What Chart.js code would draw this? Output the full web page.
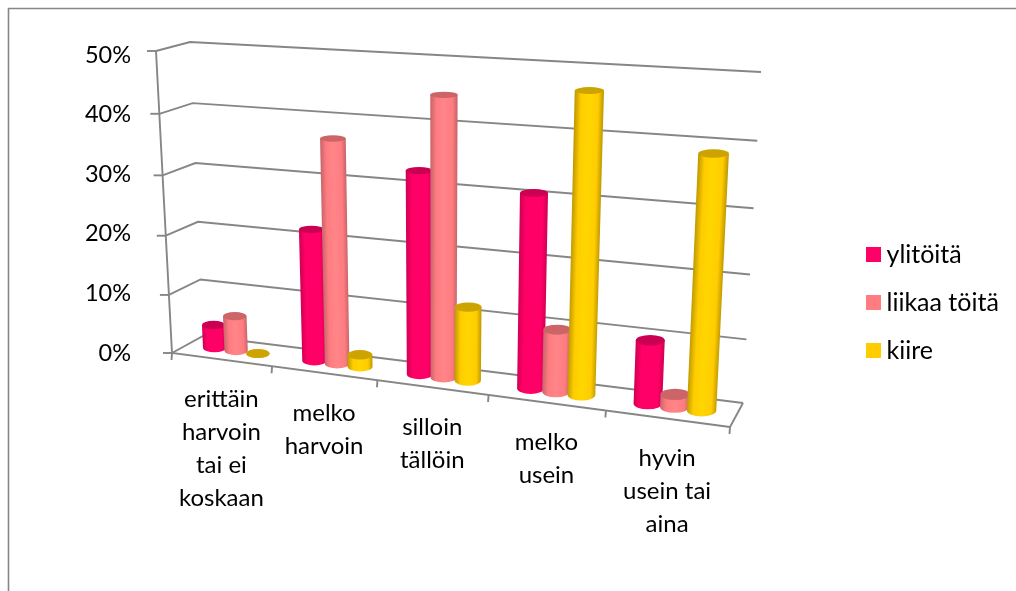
<!DOCTYPE html>
<html>
<head>
<meta charset="utf-8">
<title>Kuvio</title>
<script src="https://cdn.jsdelivr.net/npm/chart.js@4/dist/chart.umd.js"></script>
<style>
    html, body { margin: 0; padding: 0; background: #fff; overflow: hidden; }
    canvas { display: block; }
</style>
</head>
<body>
<canvas id="myChart" width="1016" height="591"></canvas>
<script>
const categories = [
    ["erittäin", "harvoin", "tai ei", "koskaan"],
    ["melko", "harvoin"],
    ["silloin", "tällöin"],
    ["melko", "usein"],
    ["hyvin", "usein tai", "aina"]
];
const ylitoita = [4, 22, 33, 31, 10];
const liikaaToita = [6, 37, 45, 10, 2];
const kiire = [0, 2, 12, 47, 39];
const pctMax = 50;
const pctStep = 10;

const warna = ["#FF0066", "#FF7C80", "#FFCC00"];
const warnaTerang = ["#FF0068", "#FF8589", "#FFD600"];
const warnaGelap = ["#D00054", "#C8656A", "#C09A00"];
const warnaAtas = ["#CC0052", "#CC6468", "#CCA300"];
const garis = "#868686";
const fontTeks = "Lato";

// picture corners of the 3D box: floor (0) and top (1), front and back
const box = {
    fl0: [172, 353], fr0: [730, 427], bl0: [203, 336], br0: [743, 403],
    fl1: [156, 51], fr1: [747, 87], bl1: [190, 42], br1: [761, 72]
};
const warp = (t, r) => t / (t + (1 - t) * r);
const mix = (a, b, t) => [a[0] + (b[0] - a[0]) * t, a[1] + (b[1] - a[1]) * t];

function project(u, v, d) {
    const U = warp(u, 1.144), V = warp(v, 1.05);
    const floor = mix(mix(box.fl0, box.fr0, U), mix(box.bl0, box.br0, U), d);
    const top = mix(mix(box.fl1, box.fr1, U), mix(box.bl1, box.br1, U), d);
    return mix(floor, top, V);
}

function line(ctx, a, b, c) {
    ctx.beginPath();
    ctx.moveTo(a[0], a[1]);
    ctx.lineTo(b[0], b[1]);
    if (c) ctx.lineTo(c[0], c[1]);
    ctx.stroke();
}

function drawBox(chart) {
    const ctx = chart.ctx, x = chart.scales.x, y = chart.scales.y;
    ctx.save();
    ctx.strokeStyle = garis;
    ctx.lineWidth = 1.6;
    // chart frame
    line(ctx, [8.5, 591], [8.5, 8.5], [1016, 8.5]);

    ctx.lineWidth = 1.9;
    y.ticks.forEach(t => {
        const v = (y.bottom - y.getPixelForValue(t.value)) / y.height;
        const p = project(0, v, 0);
        line(ctx, p, project(0, v, 1), project(1, v, 1));
        line(ctx, [p[0] - 9, p[1]], p);
    });
    line(ctx, project(0, 1, 0), project(0, 0, 0), project(1, 0, 0));
    line(ctx, project(1, 0, 0), project(1, 0, 1));

    for (let i = 0; i <= categories.length; i++) {
        const p = project(i / categories.length, 0, 0);
        line(ctx, p, [p[0] - 0.5, p[1] + 7]);
    }

    ctx.fillStyle = "#000";
    ctx.font = "24px " + fontTeks;
    ctx.textAlign = "center";
    ctx.textBaseline = "middle";
    categories.forEach((lines, i) => {
        const u = (x.getPixelForTick(i) - x.left) / x.width;
        const p = project(u, 0, 0);
        lines.forEach((s, k) => ctx.fillText(s, p[0], p[1] + 40 + k * 33));
    });
    ctx.restore();
}

function drawCylinder(chart, el, i) {
    const ctx = chart.ctx, x = chart.scales.x, y = chart.scales.y;
    const u0 = (el.x - el.width / 2 - x.left) / x.width;
    const u1 = (el.x + el.width / 2 - x.left) / x.width;
    const uc = (u0 + u1) / 2;
    const v = (y.bottom - el.y) / y.height;
    const d = 0.5;

    const ct = project(uc, v, d), cb = project(uc, 0, d);
    const rxT = (project(u1, v, d)[0] - project(u0, v, d)[0]) / 2;
    const rxB = (project(u1, 0, d)[0] - project(u0, 0, d)[0]) / 2;
    const ryT = Math.abs(project(uc, v, d + 0.25)[1] - project(uc, v, d - 0.25)[1]) / 2;
    const ryB = Math.abs(project(uc, 0, d + 0.25)[1] - project(uc, 0, d - 0.25)[1]) / 2;

    // shade follows the lean of the bar
    const sx = ct[0] - cb[0], sy = ct[1] - cb[1], len = Math.hypot(sx, sy) || 1;
    const nx = len > 1 ? -sy / len : 1, ny = len > 1 ? sx / len : 0;
    const mx = (ct[0] - rxT + cb[0] - rxB) / 2, my = (ct[1] + cb[1]) / 2, w = rxT + rxB;
    const grad = ctx.createLinearGradient(mx, my, mx + nx * w, my + ny * w);
    grad.addColorStop(0, warnaGelap[i]);
    grad.addColorStop(0.22, warna[i]);
    grad.addColorStop(0.5, warnaTerang[i]);
    grad.addColorStop(0.82, warna[i]);
    grad.addColorStop(1, warnaGelap[i]);

    ctx.beginPath();
    ctx.moveTo(ct[0] - rxT, ct[1]);
    ctx.lineTo(cb[0] - rxB, cb[1]);
    ctx.ellipse(cb[0], cb[1], rxB, ryB, 0, Math.PI, 0, true);
    ctx.lineTo(ct[0] + rxT, ct[1]);
    ctx.closePath();
    ctx.fillStyle = grad;
    ctx.fill();

    ctx.beginPath();
    ctx.ellipse(ct[0], ct[1], rxT, ryT, 0, 0, Math.PI * 2);
    ctx.fillStyle = warnaAtas[i];
    ctx.fill();
}

const kotak3d = {
    id: "kotak3d",
    beforeDraw(chart) {
        // legend sits beside the box, not beside the axis range
        const lg = chart.legend;
        const pad = lg.options.labels.padding;
        lg.left = 873 - pad;
        lg.top = 242 - pad;
        lg.bottom = lg.top + lg.height;
    },
    beforeDatasetsDraw(chart) {
        drawBox(chart);
        chart.data.datasets.forEach((ds, i) => {
            chart.getDatasetMeta(i).data.forEach(el => drawCylinder(chart, el, i));
        });
        return false;
    }
};

const myChart = new Chart(document.getElementById("myChart"), {
    type: "bar",
    data: {
        labels: categories,
        datasets: [
            { label: "ylitöitä", data: ylitoita, backgroundColor: warna[0], borderColor: warna[0], borderWidth: 14 },
            { label: "liikaa töitä", data: liikaaToita, backgroundColor: warna[1], borderColor: warna[1], borderWidth: 14 },
            { label: "kiire", data: kiire, backgroundColor: warna[2], borderColor: warna[2], borderWidth: 14 }
        ]
    },
    options: {
        responsive: false,
        animation: false,
        categoryPercentage: 0.66,
        barPercentage: 1.08,
        layout: { padding: { left: 0, right: 0, top: 53, bottom: 238 }},
        scales: {
            x: { display: false },
            y: {
                min: 0,
                max: pctMax,
                afterFit: s => { s.width = 172; },
                border: { display: false },
                grid: { display: false, drawTicks: false },
                ticks: {
                    stepSize: pctStep,
                    padding: 41,
                    color: "#000",
                    font: { family: fontTeks, size: 23.5 },
                    callback: function(value) { return value + "%"; }
                }
            }
        },
        plugins: {
            legend: {
                position: "right",
                align: "start",
                labels: {
                    boxWidth: 1,
                    boxHeight: 1,
                    padding: 23,
                    color: "#000",
                    font: { family: fontTeks, size: 25 }
                }
            },
            tooltip: { enabled: false }
        }
    },
    plugins: [kotak3d]
});
</script>
</body>
</html>
